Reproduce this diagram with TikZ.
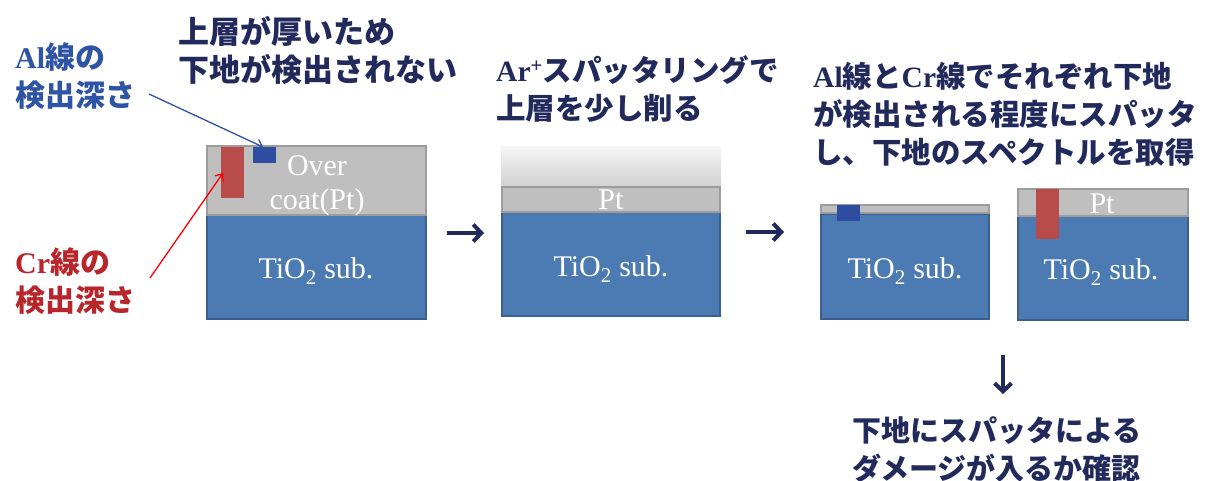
\documentclass[tikz,border=0pt]{standalone}
\usepackage{fontspec}
\setmainfont{Liberation Serif}
\newfontfamily\jp{Noto Sans CJK JP}
\usetikzlibrary{arrows.meta}
\definecolor{navy}{HTML}{222A5C}
\definecolor{alblue}{HTML}{2E54A5}
\definecolor{crred}{HTML}{B8262C}
\definecolor{subfill}{HTML}{4C7BB3}
\definecolor{subedge}{HTML}{3B5F8E}
\definecolor{ptfill}{HTML}{BFBFBF}
\definecolor{ptedge}{HTML}{9C9C9C}
\definecolor{redrect}{HTML}{B84C4A}
\definecolor{bluerect}{HTML}{2E4DA0}
\tikzset{
  subbox/.style={draw=subedge, fill=subfill, line width=2pt},
  ptbox/.style={draw=ptedge, fill=ptfill, line width=2pt},
  wtxt/.style={text=white, font=\fontsize{30}{34}\selectfont, inner sep=0, align=center},
  jptxt/.style={align=left, anchor=base west, inner sep=0},
  jpf/.style={font=\jp\bfseries\fontsize{#1}{38}\selectfont},
  flow/.style={draw=navy, line width=4pt, -{Straight Barb[length=8pt,width=17pt,line width=4pt]}},
  pointer/.style={line width=1.3pt, -{Straight Barb[length=6pt,width=10pt]}},
}
\begin{document}
\begin{tikzpicture}[x=1pt,y=-1pt]
\useasboundingbox (0,0) rectangle (1205,481);
% ---------- panel 1 ----------
\draw[subbox] (207,215) rectangle (426,319);
\draw[ptbox] (207,146) rectangle (426,215);
\fill[redrect] (221,147) rectangle (244,198);
\fill[bluerect] (253,147) rectangle (276,163);
\node[wtxt] (over) at (317,186) {Over\\coat(Pt)};
\node[wtxt] (sub1) at (316,271) {TiO\textsubscript{2} sub.};
\node[jptxt, jpf=31, text=navy] (t1) at (178,82) {上層が厚いため\\下地が検出されない};
\node[jptxt, jpf=30, text=alblue] (al) at (15,107) {{\rmfamily\bfseries Al}線の\\検出深さ};
\node[jptxt, jpf=30, text=crred] (cr) at (15,311) {{\rmfamily\bfseries Cr}線の\\検出深さ};
\coordinate (alS) at (149,94);
\coordinate (alE) at (263,147);
\coordinate (crS) at (150,278);
\coordinate (crE) at (223,173);
\draw[pointer, alblue] (alS) -- (alE);
\draw[pointer, red] (crS) -- (crE);
% ---------- arrow 1 ----------
\coordinate (a1s) at (447,233);
\coordinate (a1e) at (484,233);
\draw[flow] (a1s) -- (a1e);
% ---------- panel 2 ----------
\shade[top color=black!4, bottom color=black!18] (501,147) rectangle (721,187);
\draw[subbox] (502,212) rectangle (720,316);
\draw[ptbox] (502,187) rectangle (720,212);
\node[wtxt] (pt2) at (611,200) {Pt};
\node[wtxt] (sub2) at (611,269) {TiO\textsubscript{2} sub.};
\node[jptxt, jpf=29.5, text=navy] (t2) at (496,120) {{\rmfamily\bfseries Ar\textsuperscript{+}}スパッタリングで\\上層を少し削る};
% ---------- arrow 2 ----------
\coordinate (a2s) at (746,232);
\coordinate (a2e) at (784,232);
\draw[flow] (a2s) -- (a2e);
% ---------- panel 3a ----------
\draw[subbox] (821,214) rectangle (989,319);
\draw[ptbox] (821,205) rectangle (989,213);
\fill[bluerect] (837,205) rectangle (860,221);
\node[wtxt] (sub3) at (905,271) {TiO\textsubscript{2} sub.};
% ---------- panel 3b ----------
\draw[subbox] (1018,216) rectangle (1188,320);
\draw[ptbox] (1018,189) rectangle (1188,216);
\fill[redrect] (1036,189) rectangle (1059,239);
\node[wtxt] (pt3) at (1102,204) {Pt};
\node[wtxt] (sub4) at (1101,272) {TiO\textsubscript{2} sub.};
\node[jptxt, jpf=29.5, text=navy] (t3) at (813,164) {{\rmfamily\bfseries Al}線と{\rmfamily\bfseries Cr}線でそれぞれ下地\\が検出される程度にスパッタ\\し、下地のスペクトルを取得};
% ---------- down arrow ----------
\coordinate (d1s) at (1003,355);
\coordinate (d1e) at (1003,394);
\draw[flow] (d1s) -- (d1e);
\node[jptxt, jpf=29, text=navy] (t4) at (852,479) {下地にスパッタによる\\ダメージが入るか確認};
\end{tikzpicture}
\end{document}
